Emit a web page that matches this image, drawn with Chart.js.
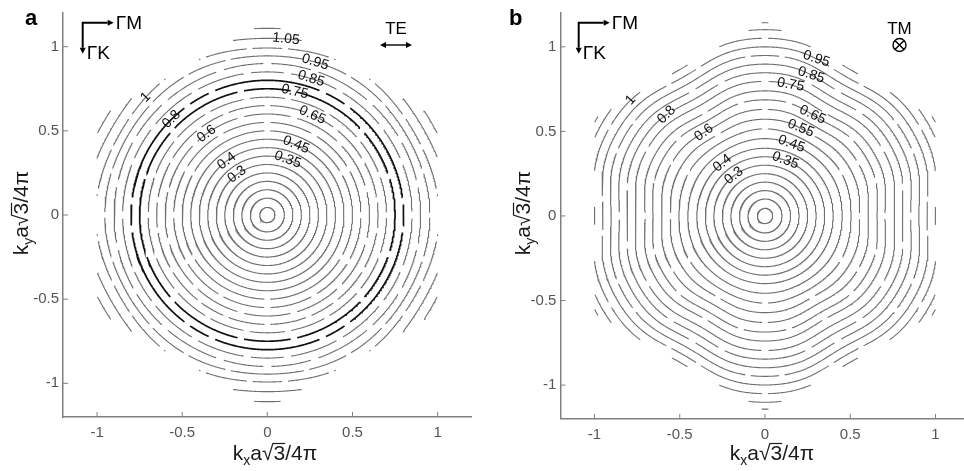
<!DOCTYPE html>
<html>
<head>
<meta charset="utf-8">
<script src="https://cdn.jsdelivr.net/npm/chart.js@4.4.1/dist/chart.umd.min.js"></script>
<style>
	html, body { margin: 0; padding: 0; background: #fff; overflow: hidden; width: 964px; height: 471px; }
	#chartA { position: absolute; left: 0; top: 0; }
	#chartB { position: absolute; left: 482px; top: 0; }
</style>
</head>
<body>
<canvas id="chartA" width="482" height="471"></canvas>
<canvas id="chartB" width="490" height="471"></canvas>
<script>
// ---- data ----
const tickValues = [-1, -0.5, 0, 0.5, 1];
const tickLabels = ['-1', '-0.5', '0', '0.5', '1'];

// panel a (TE)
const levelsA = [0.05, 0.1, 0.15, 0.2, 0.25, 0.3, 0.35, 0.4, 0.45, 0.5, 0.55, 0.6, 0.65, 0.7, 0.75, 0.8, 0.85, 0.9, 0.95, 1, 1.05, 1.1];
const radiiA = [0.045, 0.1, 0.15, 0.2, 0.25, 0.3, 0.35, 0.4, 0.45, 0.5, 0.55, 0.6, 0.65, 0.7, 0.75, 0.8, 0.85, 0.9, 0.95, 1, 1.06, 1.12];
const hex6A = [0, 0, 0, 0, 0, 0, 0, 0, 0, 0, 0, 0, 0, 0, 0, 0, 0, 0, 0.005, 0.008, 0.01, 0.01];
const hex12A = [0, 0, 0, 0, 0, 0, 0, 0, 0, 0, 0, 0, 0, 0, 0, 0, 0, 0, 0, 0, 0, 0];
// breaks of each contour, in degrees inside the 0..30 sector (GM = 0, GK = 30)
const gapsA = [[], [], [], [], [], [], [], [], [],
	[30], [0, 30], [15], [8, 30], [0, 20], [18], [6],
	[0, 22], [12, 30], [0, 16], [8, 24], [0, 14], []];
const boldA = [0.75, 0.8];
const labelsA = [
	['0.3', 0.3, 126.6], ['0.35', 0.35, 70], ['0.4', 0.4, 126.7], ['0.45', 0.45, 68],
	['0.6', 0.6, 126.5], ['0.65', 0.65, 66], ['0.75', 0.75, 77.6], ['0.8', 0.8, 134.7],
	['0.85', 0.85, 72.4], ['0.95', 0.95, 72.8], ['1', 1, 135.6], ['1.05', 1.05, 84],
];

// panel b (TM)
const levelsB = [0.05, 0.1, 0.15, 0.2, 0.25, 0.3, 0.35, 0.4, 0.45, 0.5, 0.55, 0.6, 0.65, 0.7, 0.75, 0.8, 0.85, 0.9, 0.95, 1, 1.05, 1.1, 1.15];
const radiiB = [0.045, 0.1, 0.15, 0.2, 0.25, 0.3, 0.35, 0.4, 0.455, 0.51, 0.565, 0.62, 0.675, 0.725, 0.78, 0.83, 0.88, 0.93, 0.98, 1.03, 1.08, 1.12, 1.16];
const hex6B = [0, 0, 0, 0, 0, 0, 0, 0, -0.005, -0.01, -0.015, -0.02, -0.022, -0.025, -0.025, -0.025, -0.025, -0.025, -0.025, -0.025, -0.025, -0.025, -0.025];
const hex12B = [0, 0, 0, 0, 0, 0, 0, 0, 0, 0, -0.003, -0.004, -0.005, -0.005, -0.005, -0.005, -0.005, -0.005, -0.005, -0.005, -0.005, -0.005, -0.005];
const gapsB = [[], [], [], [], [], [], [], [], [],
	[30], [0], [30], [18], [0], [30], [12],
	[0], [24], [6], [30], [16], [0], []];
const boldB = [];
const labelsB = [
	['0.3', 0.3, 127.5], ['0.35', 0.35, 70], ['0.4', 0.4, 128.7], ['0.45', 0.45, 70],
	['0.55', 0.55, 68], ['0.6', 0.6, 126], ['0.65', 0.65, 65], ['0.75', 0.75, 79],
	['0.8', 0.8, 134], ['0.85', 0.85, 72], ['0.95', 0.95, 72], ['1', 1, 139],
];

// ---- helpers ----
const DEG = Math.PI / 180;
const FONT = '"Liberation Sans", Arial, sans-serif';

function inDomain(x, y) {
	// hexagonal zone: flat sides at kx = +-1
	return Math.abs(x) <= 1 && Math.abs(y) * Math.sqrt(3) / 2 + Math.abs(x) / 2 <= 1;
}

function radiusAt(r, a6, a12, t) {
	return r * (1 + a6 * Math.cos(6 * t) + a12 * Math.cos(12 * t));
}

function inGap(t, r, gaps) {
	let a = (((t / DEG) % 60) + 60) % 60;
	if (a > 30) a = 60 - a;
	const half = 0.016 / r / DEG;
	return gaps.some((g) => Math.abs(a - g) < half);
}

function buildDatasets(levels, radii, hex6, hex12, gaps, bold) {
	return levels.map((lv, i) => {
		const pts = [];
		for (let k = 0; k <= 720; k++) {
			const t = k * 0.5 * DEG;
			const r = radiusAt(radii[i], hex6[i], hex12[i], t);
			const x = r * Math.cos(t);
			const y = r * Math.sin(t);
			if (!inDomain(x, y) || inGap(t, r, gaps[i])) pts.push({ x, y: null });
			else pts.push({ x, y });
		}
		const thick = bold.includes(lv);
		return {
			label: String(lv),
			data: pts,
			showLine: true,
			spanGaps: false,
			pointRadius: 0,
			borderColor: thick ? '#111111' : '#6f6f6f',
			borderWidth: thick ? 1.7 : 1.1,
		};
	});
}

function drawTitle(ctx, cx, cy, sub, rotate) {
	const parts = [
		{ t: 'k', s: 21, dy: 0 },
		{ t: sub, s: 14, dy: 5 },
		{ t: 'a', s: 21, dy: 0 },
		{ t: '\u221A', s: 21, dy: 0 },
		{ t: '3', s: 21, dy: 0, bar: true },
		{ t: '/4\u03C0', s: 21, dy: 0 },
	];
	ctx.save();
	ctx.translate(cx, cy);
	if (rotate) ctx.rotate(-Math.PI / 2);
	let w = 0;
	parts.forEach((p) => {
		ctx.font = `${p.s}px ${FONT}`;
		p.w = ctx.measureText(p.t).width;
		w += p.w;
	});
	let x = -w / 2;
	ctx.fillStyle = '#1a1a1a';
	ctx.strokeStyle = '#1a1a1a';
	ctx.textBaseline = 'alphabetic';
	ctx.textAlign = 'left';
	parts.forEach((p) => {
		ctx.font = `${p.s}px ${FONT}`;
		ctx.fillText(p.t, x, 7 + p.dy);
		if (p.bar) {
			ctx.lineWidth = 1.2;
			ctx.beginPath();
			ctx.moveTo(x - 1, 7 - 16.5);
			ctx.lineTo(x + p.w, 7 - 16.5);
			ctx.stroke();
		}
		x += p.w;
	});
	ctx.restore();
}

function arrowHead(ctx, x, y, dir) {
	ctx.beginPath();
	if (dir === 'right') {
		ctx.moveTo(x, y); ctx.lineTo(x - 6, y - 3); ctx.lineTo(x - 6, y + 3);
	} else if (dir === 'left') {
		ctx.moveTo(x, y); ctx.lineTo(x + 6, y - 3); ctx.lineTo(x + 6, y + 3);
	} else {
		ctx.moveTo(x, y); ctx.lineTo(x - 3, y - 6); ctx.lineTo(x + 3, y - 6);
	}
	ctx.closePath();
	ctx.fill();
}

function makePlugin(p) {
	return {
		id: 'deco' + p.letter,
		afterDatasetsDraw(chart) {
			const ctx = chart.ctx;
			const xs = chart.scales.x;
			const ys = chart.scales.y;
			const area = chart.chartArea;

			// tick marks pointing inwards
			ctx.save();
			ctx.strokeStyle = '#808080';
			ctx.lineWidth = 1;
			tickValues.forEach((v) => {
				const px = xs.getPixelForValue(v);
				const py = ys.getPixelForValue(v);
				ctx.beginPath();
				ctx.moveTo(px, area.bottom); ctx.lineTo(px, area.bottom - 5);
				ctx.moveTo(area.left, py); ctx.lineTo(area.left + 5, py);
				ctx.stroke();
			});
			ctx.restore();

			// contour labels
			ctx.save();
			ctx.fillStyle = '#111';
			ctx.font = `14px ${FONT}`;
			ctx.textAlign = 'center';
			ctx.textBaseline = 'middle';
			p.labels.forEach(([txt, lv, ang]) => {
				const i = p.levels.indexOf(lv);
				const t = ang * DEG;
				const r = radiusAt(p.radii[i], p.hex6[i], p.hex12[i], t);
				const px = xs.getPixelForValue(r * Math.cos(t));
				const py = ys.getPixelForValue(r * Math.sin(t));
				ctx.save();
				ctx.translate(px, py);
				ctx.rotate((90 - ang) * DEG);
				ctx.fillText(txt, 0, 0);
				ctx.restore();
			});
			ctx.restore();
		},
		afterDraw(chart) {
			const ctx = chart.ctx;
			ctx.save();
			// panel letter
			ctx.fillStyle = '#000';
			ctx.font = `bold 22px ${FONT}`;
			ctx.textBaseline = 'alphabetic';
			ctx.fillText(p.letter, p.letterX, 25);

			// direction key
			const cx = p.keyX;
			const cy = 22.7;
			ctx.strokeStyle = '#000';
			ctx.lineWidth = 2;
			ctx.beginPath();
			ctx.moveTo(cx, cy + 25); ctx.lineTo(cx, cy); ctx.lineTo(cx + 25, cy);
			ctx.stroke();
			arrowHead(ctx, cx + 31, cy, 'right');
			arrowHead(ctx, cx, cy + 31, 'down');
			ctx.font = `19px ${FONT}`;
			ctx.textBaseline = 'middle';
			ctx.fillText('\u0393M', cx + 33, cy + 1.5);
			ctx.fillText('\u0393K', cx + 4, cy + 31);

			// polarisation mark
			ctx.font = `17px ${FONT}`;
			ctx.textAlign = 'center';
			ctx.fillText(p.pol, p.polX, 29);
			ctx.lineWidth = 1.4;
			if (p.pol === 'TE') {
				ctx.beginPath();
				ctx.moveTo(p.polX - 12, 45); ctx.lineTo(p.polX + 12, 45);
				ctx.stroke();
				arrowHead(ctx, p.polX - 16, 45, 'left');
				arrowHead(ctx, p.polX + 16, 45, 'right');
			} else {
				ctx.beginPath();
				ctx.arc(p.polX, 45, 6.5, 0, 2 * Math.PI);
				ctx.moveTo(p.polX - 4.6, 40.4); ctx.lineTo(p.polX + 4.6, 49.6);
				ctx.moveTo(p.polX + 4.6, 40.4); ctx.lineTo(p.polX - 4.6, 49.6);
				ctx.stroke();
			}
			ctx.restore();

			// axis titles
			drawTitle(ctx, p.xTitleX, 453, 'x', false);
			drawTitle(ctx, p.yTitleX, 213, 'y', true);
		},
	};
}

function makeChart(id, p) {
	return new Chart(document.getElementById(id), {
		type: 'scatter',
		data: { datasets: buildDatasets(p.levels, p.radii, p.hex6, p.hex12, p.gaps, p.bold) },
		options: {
			responsive: false,
			animation: false,
			events: [],
			layout: { padding: p.padding },
			plugins: { legend: { display: false }, tooltip: { enabled: false } },
			scales: {
				x: {
					type: 'linear', min: -1.2, max: 1.2,
					afterBuildTicks: (s) => { s.ticks = tickValues.map((v) => ({ value: v })); },
					afterFit: (s) => { s.height = p.xHeight; },
					grid: { display: false, drawTicks: false },
					border: { display: true, color: '#808080', width: 1.5 },
					ticks: {
						padding: 7, color: '#555', font: { family: FONT, size: 15 },
						maxRotation: 0, autoSkip: false,
						callback: (v) => tickLabels[tickValues.indexOf(v)],
					},
				},
				y: {
					type: 'linear', min: -1.2, max: 1.2,
					afterBuildTicks: (s) => { s.ticks = tickValues.map((v) => ({ value: v })); },
					afterFit: (s) => { s.width = p.yWidth; },
					grid: { display: false, drawTicks: false },
					border: { display: true, color: '#808080', width: 1.5 },
					ticks: {
						padding: 4, color: '#555', font: { family: FONT, size: 15 },
						autoSkip: false,
						callback: (v) => tickLabels[tickValues.indexOf(v)],
					},
				},
			},
		},
		plugins: [makePlugin(p)],
	});
}

makeChart('chartA', {
	letter: 'a', letterX: 25, keyX: 82.7, pol: 'TE', polX: 396,
	xTitleX: 275, yTitleX: 21,
	padding: { left: 0, right: 10.3, top: 8.7, bottom: 0 }, yWidth: 63, xHeight: 54,
	levels: levelsA, radii: radiiA, hex6: hex6A, hex12: hex12A, gaps: gapsA, bold: boldA, labels: labelsA,
});

makeChart('chartB', {
	letter: 'b', letterX: 27, keyX: 96.7, pol: 'TM', polX: 417.5,
	xTitleX: 290, yTitleX: 41,
	padding: { left: 0, right: 2.4, top: 9.7, bottom: 0 }, yWidth: 78.4, xHeight: 52.1,
	levels: levelsB, radii: radiiB, hex6: hex6B, hex12: hex12B, gaps: gapsB, bold: boldB, labels: labelsB,
});
</script>
</body>
</html>
